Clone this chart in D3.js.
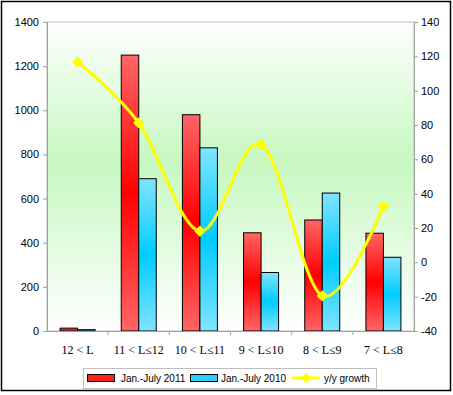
<!DOCTYPE html>
<html>
<head>
<meta charset="utf-8">
<script src="https://cdn.jsdelivr.net/npm/d3@7"></script>
<style>
  body { margin: 0; background: #fff; }
  svg text { font-family: Arial, "Liberation Sans", sans-serif; }
</style>
</head>
<body>
<div id="chart"></div>
<script>
(function () {

var categories = ['12 < L', '11 < L\u226412', '10 < L\u226411', '9 < L\u226410', '8 < L\u22649', '7 < L\u22648']
var sales2011 = [13, 1250, 980, 445, 503, 443]
var sales2010 = [6, 690, 830, 265, 625, 334]
var growth = [116.7, 81.2, 18.1, 68.7, -19.5, 32.6]
var leftTicks = [0, 200, 400, 600, 800, 1000, 1200, 1400]
var rightTicks = [-40, -20, 0, 20, 40, 60, 80, 100, 120, 140]

var W = 453, H = 395
var plot = { left: 47, right: 414, top: 22, bottom: 331 }

var svg = d3.select('#chart').append('svg')
    .attr('width', W)
    .attr('height', H)

var defs = svg.append('defs')

var bg = defs.append('linearGradient')
    .attr('id', 'bg').attr('x1', 0).attr('y1', 0).attr('x2', 0).attr('y2', 1)
bg.append('stop').attr('offset', '0%').attr('stop-color', '#ffffff')
bg.append('stop').attr('offset', '45%').attr('stop-color', '#c6f8c0')
bg.append('stop').attr('offset', '100%').attr('stop-color', '#ffffff')

function barGrad(id, edge, mid) {
  var g = defs.append('linearGradient')
      .attr('id', id).attr('x1', 0).attr('y1', 0).attr('x2', 0).attr('y2', 1)
  g.append('stop').attr('offset', '0%').attr('stop-color', edge)
  g.append('stop').attr('offset', '50%').attr('stop-color', mid)
  g.append('stop').attr('offset', '100%').attr('stop-color', edge)
}
barGrad('redGrad', '#ff6666', '#ff0000')
barGrad('blueGrad', '#80e4ff', '#00ccff')

// outer frame
svg.append('rect')
    .attr('x', 1.5).attr('y', 1.5)
    .attr('width', 449).attr('height', 389)
    .attr('fill', '#fff')
    .attr('stroke', '#000')
    .attr('stroke-width', 1.5)

var x = d3.scaleBand()
    .domain(categories)
    .range([plot.left, plot.right])

var xInner = d3.scaleBand()
    .domain(['2011', '2010'])
    .range([0, 35])

var yLeft = d3.scaleLinear()
    .domain([0, 1400])
    .range([plot.bottom, plot.top])

var yRight = d3.scaleLinear()
    .domain([-40, 140])
    .range([plot.bottom, plot.top])

// plot area
svg.append('rect')
    .attr('x', plot.left).attr('y', plot.top)
    .attr('width', plot.right - plot.left)
    .attr('height', plot.bottom - plot.top)
    .attr('fill', 'url(#bg)')
    .attr('stroke', '#c0c0c0')
    .attr('stroke-width', 1)

// bars
var groups = svg.selectAll('.grp')
    .data(categories)
    .enter().append('g')
    .attr('class', 'grp')
    .attr('transform', function (d) {
      return 'translate(' + (x(d) + x.bandwidth() / 2 - 17.5) + ',0)'
    })

groups.append('rect')
    .attr('x', xInner('2011'))
    .attr('y', function (d, i) { return yLeft(sales2011[i]) })
    .attr('width', xInner.bandwidth())
    .attr('height', function (d, i) { return plot.bottom - yLeft(sales2011[i]) })
    .attr('fill', 'url(#redGrad)')
    .attr('stroke', '#000')
    .attr('stroke-width', 1)

groups.append('rect')
    .attr('x', xInner('2010'))
    .attr('y', function (d, i) { return yLeft(sales2010[i]) })
    .attr('width', xInner.bandwidth())
    .attr('height', function (d, i) { return plot.bottom - yLeft(sales2010[i]) })
    .attr('fill', 'url(#blueGrad)')
    .attr('stroke', '#000')
    .attr('stroke-width', 1)

// axes
var leftAxis = d3.axisLeft(yLeft).tickValues(leftTicks).tickFormat(String).tickSize(4).tickPadding(4)
svg.append('g')
    .attr('class', 'axis left')
    .attr('transform', 'translate(' + plot.left + ',0)')
    .call(leftAxis)

var rightAxis = d3.axisRight(yRight).tickValues(rightTicks).tickFormat(String).tickSize(4).tickPadding(3)
svg.append('g')
    .attr('class', 'axis right')
    .attr('transform', 'translate(' + plot.right + ',0)')
    .call(rightAxis)

var xAxis = d3.axisBottom(x).tickSize(0).tickPadding(14)
var xg = svg.append('g')
    .attr('class', 'axis bottom')
    .attr('transform', 'translate(0,' + plot.bottom + ')')
    .call(xAxis)
xg.selectAll('text')
    .style('font-family', '"Liberation Serif", "Noto Sans CJK SC", serif')
    .style('font-size', '12px')

// category separator ticks
svg.selectAll('.sep')
    .data(categories.slice(1))
    .enter().append('line')
    .attr('x1', function (d) { return x(d) })
    .attr('x2', function (d) { return x(d) })
    .attr('y1', plot.bottom)
    .attr('y2', plot.bottom + 4)
    .attr('stroke', '#a0a0a0')

svg.selectAll('.axis path, .axis line')
    .attr('stroke', '#a0a0a0')
svg.selectAll('.left text, .right text')
    .attr('fill', '#000')
    .style('font-size', '11px')

// growth line
var line = d3.line()
    .x(function (d, i) { return x(categories[i]) + x.bandwidth() / 2 })
    .y(function (d) { return yRight(d) })
    .curve(d3.curveCatmullRom.alpha(0))

svg.append('path')
    .datum(growth)
    .attr('d', line)
    .attr('fill', 'none')
    .attr('stroke', '#ffff00')
    .attr('stroke-width', 3)

svg.selectAll('.pt')
    .data(growth)
    .enter().append('rect')
    .attr('class', 'pt')
    .attr('width', 8).attr('height', 8)
    .attr('x', -4).attr('y', -4)
    .attr('fill', '#ffff00')
    .attr('transform', function (d, i) {
      return 'translate(' + (x(categories[i]) + x.bandwidth() / 2) + ',' + yRight(d) + ') rotate(45)'
    })

// legend
var legend = svg.append('g')
legend.append('rect')
    .attr('x', 83.5).attr('y', 368.5)
    .attr('width', 293).attr('height', 20)
    .attr('fill', '#fff')
    .attr('stroke', '#c0c0c0')

legend.append('rect')
    .attr('x', 87.5).attr('y', 374.5).attr('width', 27).attr('height', 7)
    .attr('fill', '#ff2020').attr('stroke', '#000')
legend.append('text')
    .text('Jan.-July 2011')
    .attr('x', 121).attr('y', 382)
    .attr('font-size', 10)

legend.append('rect')
    .attr('x', 190.5).attr('y', 374.5).attr('width', 27).attr('height', 7)
    .attr('fill', '#33ccff').attr('stroke', '#000')
legend.append('text')
    .text('Jan.-July 2010')
    .attr('x', 221).attr('y', 382)
    .attr('font-size', 10)

legend.append('line')
    .attr('x1', 292).attr('x2', 320).attr('y1', 378).attr('y2', 378)
    .attr('stroke', '#ffff00').attr('stroke-width', 3)
legend.append('rect')
    .attr('width', 7).attr('height', 7).attr('x', -3.5).attr('y', -3.5)
    .attr('fill', '#ffff00')
    .attr('transform', 'translate(306,378) rotate(45)')
legend.append('text')
    .text('y/y growth')
    .attr('x', 324).attr('y', 382)
    .attr('font-size', 10)

})()
</script>
</body>
</html>
